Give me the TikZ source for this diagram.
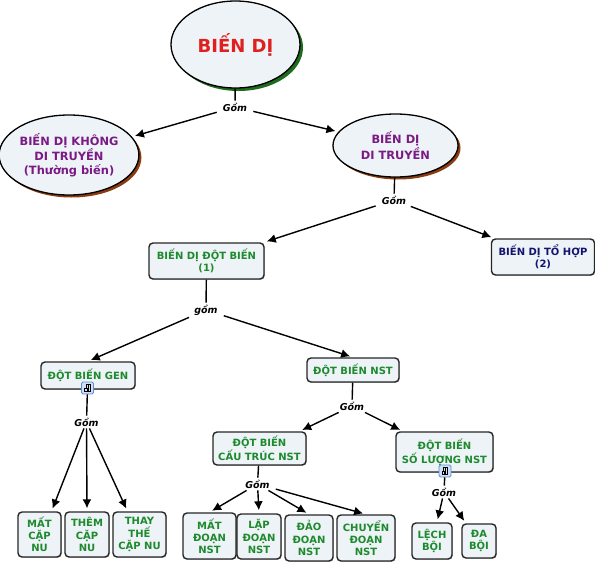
\documentclass[tikz,border=0pt]{standalone}
\usepackage{fontspec}
\setmainfont{DejaVu Sans}
\usetikzlibrary{shapes.geometric,shadows,arrows.meta}
\definecolor{nodefill}{HTML}{EDF3F7}
\definecolor{tred}{HTML}{E0201F}
\definecolor{tpurple}{HTML}{7B1A85}
\definecolor{tgreen}{HTML}{1E8A2E}
\definecolor{tnavy}{HTML}{14146E}
\definecolor{shgreen}{HTML}{1E6B1E}
\definecolor{shbrown}{HTML}{8A3B10}
\definecolor{iconblue}{HTML}{5B8FD0}
\definecolor{iconfill}{HTML}{CFE0F5}
\tikzset{
  x=1pt,y=-1pt,
  txt/.style={font=\bfseries\fontsize{10}{12.2}\selectfont,align=center,inner sep=0pt},
  oval/.style={txt,ellipse,draw=black,line width=1.3pt,fill=nodefill},
  ovalbrown/.style={oval,font=\bfseries\fontsize{11.4}{13.5}\selectfont,general shadow={fill=shbrown,shadow xshift=2.5pt,shadow yshift=-2.5pt}},
  ovalgreen/.style={oval,general shadow={fill=shgreen,shadow xshift=3pt,shadow yshift=-3pt}},
  box/.style={txt,rectangle,rounded corners=4pt,draw=black!85,line width=1.4pt,fill=nodefill,
     general shadow={fill=black!25,shadow xshift=0.8pt,shadow yshift=-0.8pt}},
  lnk/.style={font=\bfseries\itshape\fontsize{9.5}{11}\selectfont,inner xsep=6pt,inner ysep=2pt,text=black},
  conn/.style={line width=1.4pt,draw=black},
  arr/.style={conn,-{Latex[length=9pt,width=9pt]},shorten >=3pt},
  iconbox/.style={rectangle,rounded corners=1.5pt,draw=iconblue,line width=0.9pt,fill=iconfill,minimum size=12pt,inner sep=0pt},
}
\newcommand{\iconglyph}[1]{%
  \draw[black,line width=0.7pt] ([shift={(-3.2,3.4)}]#1.center) -- ([shift={(3.2,3.4)}]#1.center)
    ([shift={(-2.8,3.4)}]#1.center) -- ([shift={(-2.8,0.4)}]#1.center) -- ([shift={(-0.6,0.4)}]#1.center) -- ([shift={(-0.6,3.4)}]#1.center)
    ([shift={(0.8,3.4)}]#1.center) -- ([shift={(0.8,-3.2)}]#1.center) -- ([shift={(2.8,-3.2)}]#1.center) -- ([shift={(2.8,3.4)}]#1.center)
    ([shift={(-1.6,0.4)}]#1.center) -- ([shift={(-1.6,-3.2)}]#1.center) -- ([shift={(0.8,-3.2)}]#1.center);}
\begin{document}
\begin{tikzpicture}
\useasboundingbox (0,0) rectangle (595,562);
% concepts
\node[ovalgreen,text=tred,font=\bfseries\fontsize{18}{20}\selectfont,minimum width=129pt,minimum height=87pt] (root) at (235.5,44.5) {BIẾN DỊ};
\node[ovalbrown,text=tpurple,minimum width=137pt,minimum height=80pt] (kdt) at (69,155) {BIẾN DỊ KHÔNG\\DI TRUYỀN\\(Thường biến)};
\node[ovalbrown,text=tpurple,minimum width=125pt,minimum height=63pt] (dt) at (395.5,145.5) {BIẾN DỊ\\DI TRUYỀN};
\node[box,text=tnavy,minimum width=103pt,minimum height=36pt] (toh) at (543,257) {BIẾN DỊ TỔ HỢP\\(2)};
\node[box,text=tgreen,minimum width=115pt,minimum height=36pt] (dbb) at (206.5,261) {BIẾN DỊ ĐỘT BIẾN\\(1)};
\node[box,text=tgreen,minimum width=94pt,minimum height=27pt] (gen) at (88,375.5) {ĐỘT BIẾN GEN};
\node[box,text=tgreen,minimum width=92pt,minimum height=24pt] (nst) at (353,370) {ĐỘT BIẾN NST};
\node[box,text=tgreen,minimum width=93pt,minimum height=33pt] (ct) at (259.5,448.5) {ĐỘT BIẾN\\CẤU TRÚC NST};
\node[box,text=tgreen,minimum width=97pt,minimum height=40pt] (sl) at (444.5,452) {ĐỘT BIẾN\\SỐ LƯỢNG NST};
\node[box,text=tgreen,minimum width=43pt,minimum height=45pt] (mcn) at (39.5,534.5) {MẤT\\CẶP\\NU};
\node[box,text=tgreen,minimum width=44pt,minimum height=45pt] (tcn) at (87,534.5) {THÊM\\CẶP\\NU};
\node[box,text=tgreen,minimum width=53pt,minimum height=45pt] (tt) at (139.5,534.5) {THAY\\THẾ\\CẶP NU};
\node[box,text=tgreen,minimum width=53pt,minimum height=46pt] (md) at (209.5,536) {MẤT\\ĐOẠN\\NST};
\node[box,text=tgreen,minimum width=44pt,minimum height=45pt] (ld) at (259,536.5) {LẶP\\ĐOẠN\\NST};
\node[box,text=tgreen,minimum width=48pt,minimum height=46pt] (dd) at (309,538) {ĐẢO\\ĐOẠN\\NST};
\node[box,text=tgreen,minimum width=58pt,minimum height=46pt] (cd) at (366,538) {CHUYỂN\\ĐOẠN\\NST};
\node[box,text=tgreen,minimum width=40pt,minimum height=36pt] (lb) at (432,541) {LỆCH\\BỘI};
\node[box,text=tgreen,minimum width=34pt,minimum height=34pt] (db) at (479,541) {ĐA\\BỘI};
% icons
\node[iconbox] (ic1) at (87.5,388) {};
\iconglyph{ic1}
\node[iconbox] (ic2) at (445,471) {};
\iconglyph{ic2}
% linking phrases
\node[lnk] (g1) at (235,107) {Gồm};
\node[lnk] (g2) at (394,200) {Gồm};
\node[lnk] (g3) at (206,310) {gồm};
\node[lnk] (g4) at (352,406) {Gồm};
\node[lnk] (g5) at (86.5,422) {Gồm};
\node[lnk] (g6) at (257.5,484) {Gồm};
\node[lnk] (g7) at (444,492) {Gồm};
% connectors
\draw[conn] (root) -- (g1);
\draw[arr] (g1) -- (kdt);
\draw[arr] (g1) -- (dt);
\draw[conn] (dt) -- (g2);
\draw[arr] (g2) -- (dbb);
\draw[arr] (g2) -- (toh);
\draw[conn] (dbb) -- (g3);
\draw[arr] (g3) -- (gen.north);
\draw[arr] (g3) -- (nst.north);
\draw[conn] (nst) -- (g4);
\draw[arr] (g4) -- ([xshift=40pt]ct.north);
\draw[arr] (g4) -- (sl);
\draw[conn] (ic1) -- (g5);
\draw[arr] (g5) -- ([xshift=12pt]mcn.north);
\draw[arr] (g5) -- (tcn.north);
\draw[arr] (g5) -- ([xshift=-12pt]tt.north);
\draw[conn] (ct) -- (g6);
\draw[arr] (g6) -- (md.north);
\draw[arr] (g6) -- (ld.north);
\draw[arr] (g6) -- (dd.north);
\draw[arr] (g6) -- (cd.north);
\draw[conn] (ic2) -- (g7);
\draw[arr] (g7) -- ([xshift=5pt]lb.north);
\draw[arr] (g7) -- ([xshift=-13pt]db.north);
\end{tikzpicture}
\end{document}
